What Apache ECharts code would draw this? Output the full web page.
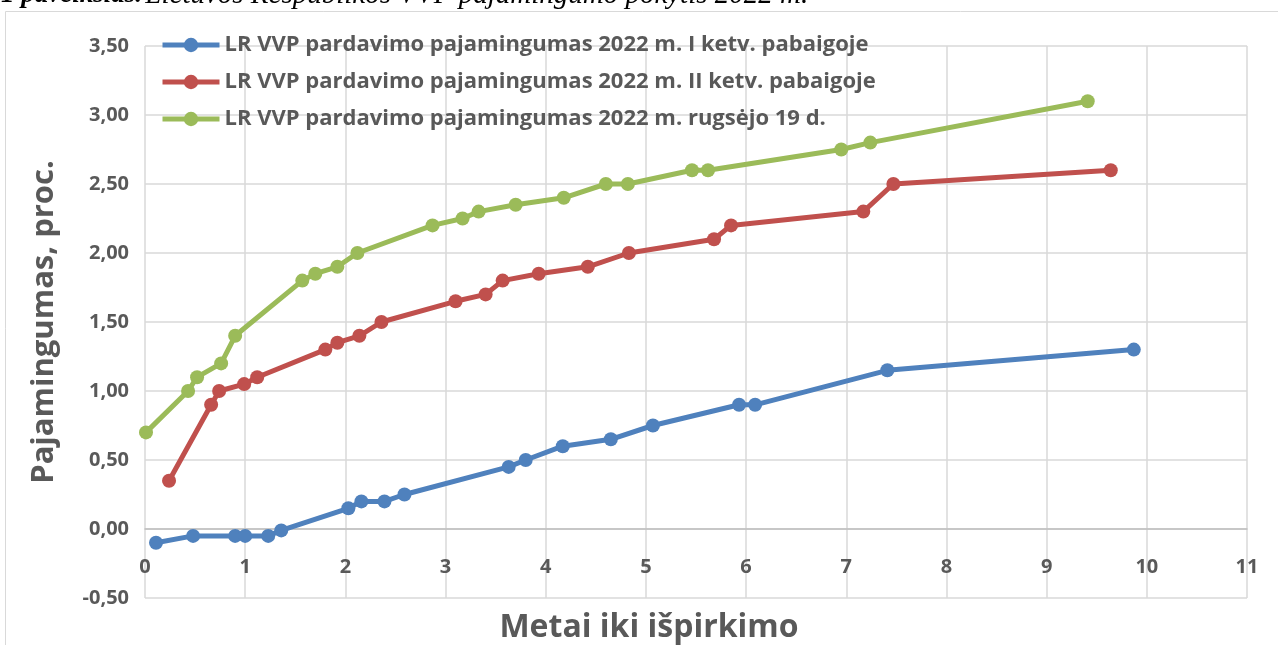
<!DOCTYPE html>
<html>
<head>
<meta charset="utf-8">
<script src="https://cdn.jsdelivr.net/npm/echarts@6/dist/echarts.min.js"></script>
<style>
  html, body { margin: 0; padding: 0; background: #fff; }
  #chart { width: 1278px; height: 645px; }
</style>
</head>
<body>
<div id="chart"></div>
<script>
// pajamingumas pagal metus iki išpirkimo
const seriesNames = [
  'LR VVP pardavimo pajamingumas 2022 m. I ketv. pabaigoje',
  'LR VVP pardavimo pajamingumas 2022 m. II ketv. pabaigoje',
  'LR VVP pardavimo pajamingumas 2022 m. rugsėjo 19 d.',
];
const q1Years = [0.11, 0.48, 0.90, 1.00, 1.23, 1.36, 2.03, 2.16, 2.39, 2.59, 3.63, 3.80, 4.17, 4.65, 5.07, 5.93, 6.09, 7.41, 9.87];
const q1Yield = [-0.10, -0.05, -0.05, -0.05, -0.05, -0.01, 0.15, 0.20, 0.20, 0.25, 0.45, 0.50, 0.60, 0.65, 0.75, 0.90, 0.90, 1.15, 1.30];
const q2Years = [0.24, 0.66, 0.74, 0.99, 1.12, 1.80, 1.92, 2.14, 2.36, 3.10, 3.40, 3.57, 3.93, 4.42, 4.83, 5.68, 5.85, 7.17, 7.47, 9.64];
const q2Yield = [0.35, 0.90, 1.00, 1.05, 1.10, 1.30, 1.35, 1.40, 1.50, 1.65, 1.70, 1.80, 1.85, 1.90, 2.00, 2.10, 2.20, 2.30, 2.50, 2.60];
const sepYears = [0.01, 0.43, 0.52, 0.76, 0.90, 1.57, 1.70, 1.92, 2.12, 2.87, 3.17, 3.33, 3.70, 4.18, 4.60, 4.82, 5.46, 5.62, 6.95, 7.24, 9.41];
const sepYield = [0.70, 1.00, 1.10, 1.20, 1.40, 1.80, 1.85, 1.90, 2.00, 2.20, 2.25, 2.30, 2.35, 2.40, 2.50, 2.50, 2.60, 2.60, 2.75, 2.80, 3.10];
const yMin = -0.5;
const yMax = 3.5;
const colors = ['#4f81bd', '#c0504d', '#9bbb59'];

const pairs = (xs, ys) => xs.map((x, i) => [x, ys[i]]);
const lines = [pairs(q1Years, q1Yield), pairs(q2Years, q2Yield), pairs(sepYears, sepYield)];

const font = '"Open Sans", sans-serif';
const myChart = echarts.init(document.getElementById('chart'));

const option = {
  animation: false,
  color: colors,
  graphic: [
    {
      type: 'rect',
      shape: { x: 5.5, y: 11.5, width: 1300, height: 700 },
      style: { fill: 'none', stroke: '#d9d9d9', lineWidth: 1 },
      silent: true,
    },
    {
      type: 'text',
      left: 1,
      top: -19,
      style: {
        text: '{b|1 paveikslas.} {i|Lietuvos Respublikos VVP pajamingumo pokytis 2022 m.}',
        rich: {
          b: { font: 'italic bold 27px "Liberation Serif", serif', fill: '#000' },
          i: { font: 'italic 29px "Liberation Serif", serif', fill: '#000' },
        },
      },
    },
  ],
  grid: {
    left: 145,
    right: 31,
    top: 46,
    bottom: 47,
    outerBoundsMode: 'none',
  },
  legend: {
    orient: 'vertical',
    left: 155,
    top: 27,
    itemWidth: 57,
    itemHeight: 18,
    itemGap: 11,
    data: seriesNames,
    lineStyle: { width: 5 },
    textStyle: {
      fontFamily: font,
      fontWeight: 'bold',
      fontSize: 22,
      lineHeight: 26,
      color: '#595959',
    },
  },
  xAxis: {
    type: 'value',
    min: 0,
    max: 11,
    interval: 1,
    name: 'Metai iki išpirkimo',
    nameLocation: 'middle',
    nameGap: 83,
    nameTextStyle: {
      fontFamily: font,
      fontWeight: 'bold',
      fontSize: 32,
      color: '#595959',
      padding: [0, 94, 0, 0],
    },
    axisLine: { onZero: false, lineStyle: { color: '#bfbfbf', width: 1.5 } },
    axisTick: { show: false },
    axisLabel: { margin: 28, fontFamily: font, fontWeight: 'bold', fontSize: 20, color: '#595959' },
    splitLine: { lineStyle: { color: '#d9d9d9', width: 1.5 } },
  },
  yAxis: {
    type: 'value',
    min: yMin,
    max: yMax,
    interval: 0.5,
    name: 'Pajamingumas, proc.',
    nameLocation: 'middle',
    nameGap: 85,
    nameTextStyle: { fontFamily: font, fontWeight: 'bold', fontSize: 31, color: '#595959' },
    axisLine: { show: false, onZero: false },
    axisTick: { show: false },
    axisLabel: {
      margin: 16,
      fontFamily: font,
      fontWeight: 'bold',
      fontSize: 20,
      color: '#595959',
      formatter(v) {
        return v.toFixed(2).replace('.', ',');
      },
    },
    splitLine: { lineStyle: { color: '#d9d9d9', width: 1.5 } },
  },
  series: lines.map((data, i) => ({
    name: seriesNames[i],
    type: 'line',
    data,
    symbol: 'circle',
    symbolSize: 14,
    lineStyle: { width: 5 },
  })),
};

myChart.setOption(option);

// x ašis kerta y ties 0, kaip Excel
const zeroY = myChart.convertToPixel({ yAxisIndex: 0 }, 0);
const bottomY = myChart.convertToPixel({ yAxisIndex: 0 }, yMin);
myChart.setOption({ xAxis: { offset: zeroY - bottomY } });
</script>
</body>
</html>
